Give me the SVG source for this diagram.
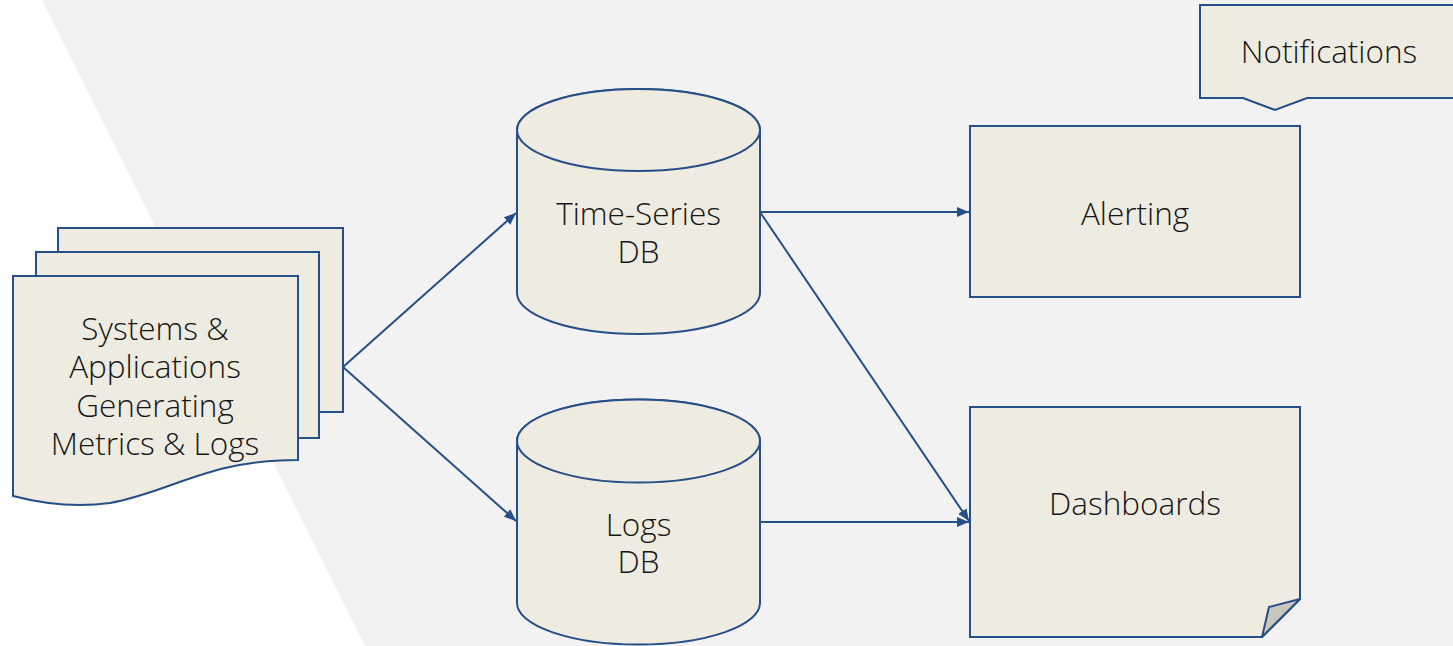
<svg xmlns="http://www.w3.org/2000/svg" width="1453" height="646" viewBox="0 0 1453 646">
  <defs>
    <style>
      .shape { fill: #eeebe1; stroke: #264f87; stroke-width: 2; }
      .edge { fill: none; stroke: #264f87; stroke-width: 2; }
      .label { font-family: "Open Sans", "Liberation Sans", sans-serif; font-weight: 300; font-size: 31.5px; fill: #161616; text-anchor: middle; }
    </style>
    <marker id="arrow" viewBox="0 0 12 10" refX="12" refY="5" markerWidth="12" markerHeight="10" markerUnits="userSpaceOnUse" orient="auto">
      <path d="M0,0 L12,5 L0,10 Z" fill="#264f87"/>
    </marker>
  </defs>

  <!-- background -->
  <rect x="0" y="0" width="1453" height="646" fill="#ffffff"/>
  <polygon points="42,0 1453,0 1453,646 365,646" fill="#f2f2f2"/>

  <!-- connectors -->
  <g id="connectors">
    <line class="edge" x1="343" y1="367" x2="516" y2="213" marker-end="url(#arrow)"/>
    <line class="edge" x1="343" y1="367" x2="516" y2="521" marker-end="url(#arrow)"/>
    <line class="edge" x1="760" y1="212" x2="969" y2="212" marker-end="url(#arrow)"/>
    <line class="edge" x1="760" y1="212" x2="969" y2="521" marker-end="url(#arrow)"/>
    <line class="edge" x1="760" y1="522" x2="969" y2="522" marker-end="url(#arrow)"/>
  </g>

  <!-- source documents -->
  <g id="sources">
    <rect class="shape" x="58" y="228" width="285" height="184"/>
    <rect class="shape" x="36" y="252" width="283" height="186"/>
    <path class="shape" d="M13,276 L298,276 L298,460 C 275,460 250,462 225,468 C 180,479 150,496 110,503 C 75,508 40,503 13,496 Z"/>
    <text class="label" x="155" y="340">Systems &amp;</text>
    <text class="label" x="155" y="378">Applications</text>
    <text class="label" x="155" y="417">Generating</text>
    <text class="label" x="155" y="455">Metrics &amp; Logs</text>
  </g>

  <!-- time-series database -->
  <g id="tsdb">
    <path class="shape" d="M517,130 L517,293 A121.5,41 0 0 0 760,293 L760,130 A121.5,41 0 0 0 517,130 Z"/>
    <ellipse class="shape" cx="638.5" cy="130" rx="121.5" ry="41"/>
    <text class="label" x="638.5" y="225">Time-Series</text>
    <text class="label" x="638.5" y="263">DB</text>
  </g>

  <!-- logs database -->
  <g id="logsdb">
    <path class="shape" d="M517,441 L517,603 A121.5,41.5 0 0 0 760,603 L760,441 A121.5,41.5 0 0 0 517,441 Z"/>
    <ellipse class="shape" cx="638.5" cy="441" rx="121.5" ry="41.5"/>
    <text class="label" x="638.5" y="536">Logs</text>
    <text class="label" x="638.5" y="573">DB</text>
  </g>

  <!-- alerting -->
  <g id="alerting">
    <rect class="shape" x="970" y="126" width="330" height="171"/>
    <text class="label" x="1135" y="225">Alerting</text>
  </g>

  <!-- dashboards -->
  <g id="dashboards">
    <path class="shape" d="M970,407 L1300,407 L1300,599 L1262,637 L970,637 Z"/>
    <path d="M1300,599 L1262,637 L1269,607 Z" fill="#c9c6bb" stroke="#264f87" stroke-width="2" stroke-linejoin="round"/>
    <text class="label" x="1135" y="515">Dashboards</text>
  </g>

  <!-- notifications callout -->
  <g id="notifications">
    <path class="shape" d="M1200,5 L1460,5 L1460,98 L1307,98 L1275,110 L1243,98 L1200,98 Z"/>
    <text class="label" x="1329" y="63">Notifications</text>
  </g>
</svg>
